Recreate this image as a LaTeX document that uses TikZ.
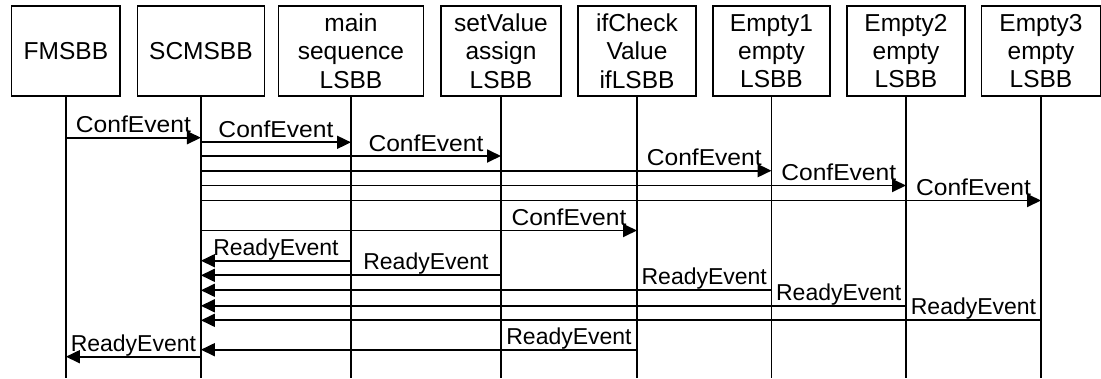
\documentclass[tikz,border=0pt]{standalone}
\usepackage{fontspec}
\usepackage{graphicx}
\setmainfont{Liberation Sans}
\usetikzlibrary{arrows.meta,calc}
\tikzset{
  box/.style={draw, line width=1.3pt, minimum height=90pt, inner sep=0pt, align=center,
    font=\fontsize{24.5}{28.3}\selectfont},
  life/.style={line width=1.8pt},
  msg/.style={line width=1.8pt, -{Triangle[length=14pt,width=13pt]}},
  lbl/.style={anchor=base, inner sep=0pt, font=\fontsize{23}{27}\selectfont},
}
\newcommand\confmsg[6]{%
  \draw[msg] (#1.south |- 0,#5) -- (#2.south |- 0,#5);
  \node[lbl] (#6) at ($(#3.south |- 0,#5)!0.5!(#4.south |- 0,#5) + (0,-4.8)$) {\scalebox{1.07}[1]{ConfEvent}};}
\newcommand\readymsg[6]{%
  \draw[msg] (#1.south |- 0,#5) -- (#2.south |- 0,#5);
  \node[lbl] (#6) at ($(#3.south |- 0,#5)!0.5!(#4.south |- 0,#5) + (0,-5.5)$) {ReadyEvent};}
\begin{document}
\begin{tikzpicture}[x=1pt,y=-1pt]
\useasboundingbox[fill=white] (0,0) rectangle (1101,378);
\node[box, minimum width=108.3pt] (fm) at (65.9,51) {FMSBB};
\node[box, minimum width=126.6pt] (scm) at (200.9,51) {SCMSBB};
\node[box, minimum width=144.6pt] (ms) at (351,51) {main\\sequence\\LSBB};
\node[box, minimum width=120pt] (sv) at (501,51) {setValue\\assign\\LSBB};
\node[box, minimum width=118pt] (ic) at (637,51) {ifCheck\\Value\\ifLSBB};
\node[box, minimum width=117pt] (ea) at (771.5,51) {Empty1\\empty\\LSBB};
\node[box, minimum width=118pt] (eb) at (906,51) {Empty2\\empty\\LSBB};
\node[box, minimum width=118.5pt] (ec) at (1041,51) {Empty3\\empty\\LSBB};
\foreach \n in {fm,scm,ms,sv,ic,ea,eb,ec}{
  \draw[life] (\n.south) -- (\n.south |- 0,378);
}
\confmsg{fm}{scm}{fm}{scm}{137.7}{c1}
\confmsg{scm}{ms}{scm}{ms}{142.3}{c2}
\confmsg{scm}{sv}{ms}{sv}{156}{c3}
\confmsg{scm}{ea}{ic}{ea}{170.7}{c4}
\confmsg{scm}{eb}{ea}{eb}{185.5}{c5}
\confmsg{scm}{ec}{eb}{ec}{200.5}{c6}
\confmsg{scm}{ic}{sv}{ic}{230.5}{c7}
\readymsg{ms}{scm}{scm}{ms}{260.7}{r1}
\readymsg{sv}{scm}{ms}{sv}{275.3}{r2}
\readymsg{ea}{scm}{ic}{ea}{290.3}{r3}
\readymsg{eb}{scm}{ea}{eb}{305.8}{r4}
\readymsg{ec}{scm}{eb}{ec}{320.3}{r5}
\readymsg{ic}{scm}{sv}{ic}{349.7}{r6}
\readymsg{scm}{fm}{fm}{scm}{356.7}{r7}
\end{tikzpicture}
\end{document}
